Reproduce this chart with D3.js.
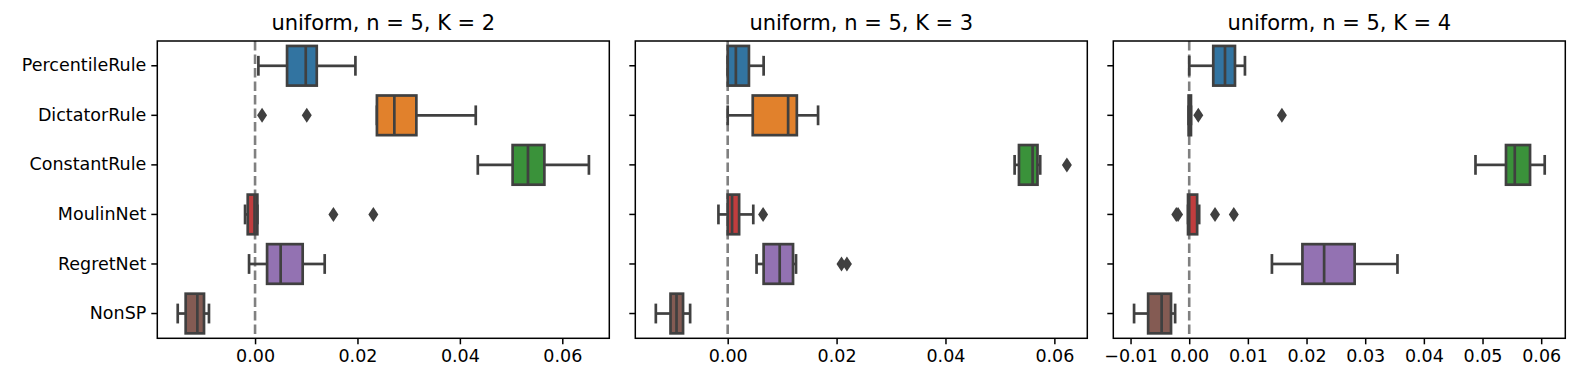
<!DOCTYPE html>
<html><head><meta charset="utf-8">
<script src="https://cdn.jsdelivr.net/npm/d3@7"></script>
<style>body{margin:0;background:#fff}svg{display:block}text{font-family:"DejaVu Sans",sans-serif}</style>
</head><body><svg id="c" width="1579" height="383"></svg>
<script>
const categories = ["PercentileRule","DictatorRule","ConstantRule","MoulinNet","RegretNet","NonSP"];
const colors = ["#3274a1","#e1812c","#3a923a","#c03d3e","#9372b2","#845b53"];
const titles = ["uniform, n = 5, K = 2","uniform, n = 5, K = 3","uniform, n = 5, K = 4"];
// [whisker low, q1, median, q3, whisker high]
const statsK2 = [
  [0.00065, 0.00625, 0.0099, 0.01205, 0.0196],
  [0.0238, 0.0238, 0.0272, 0.0315, 0.0431],
  [0.0435, 0.0503, 0.0533, 0.0565, 0.0652],
  [-0.00195, -0.00143, -0.0001, 0.00045, 0.00045],
  [-0.00117, 0.00235, 0.0050, 0.0093, 0.0136],
  [-0.0151, -0.01355, -0.01127, -0.00997, -0.0090]
];
const fliersK2 = [[], [0.00137, 0.0101], [], [0.0153, 0.0231], [], []];
const statsK3 = [
  [0.0, 0.0, 0.0015, 0.0039, 0.0066],
  [0.0, 0.0046, 0.0111, 0.0127, 0.0166],
  [0.0527, 0.0535, 0.0560, 0.0569, 0.0574],
  [-0.0017, 0.0, 0.0008, 0.0021, 0.0047],
  [0.0053, 0.0066, 0.00955, 0.0120, 0.01255],
  [-0.0132, -0.0105, -0.0094, -0.0082, -0.0069]
];
const fliersK3 = [[], [], [0.0623], [0.0065], [0.0209, 0.0219], []];
const statsK4 = [
  [0.0, 0.0041, 0.0061, 0.0078, 0.0095],
  [-0.0001, -0.0001, 0.0001, 0.0003, 0.0003],
  [0.0488, 0.0540, 0.0555, 0.0581, 0.0606],
  [-0.0002, -0.0002, 0.0, 0.00135, 0.0017],
  [0.0141, 0.0193, 0.0230, 0.0282, 0.0355],
  [-0.0094, -0.0070, -0.0047, -0.0031, -0.0024]
];
const fliersK4 = [[], [0.00155, 0.0158], [], [-0.0022, -0.0019, 0.0044, 0.0076], [], []];
const domains = [[-0.01909, 0.06918], [-0.01697, 0.06605], [-0.01294, 0.06411]];
const ticksK2 = [0, 0.02, 0.04, 0.06];
const ticksK3 = [0, 0.02, 0.04, 0.06];
const ticksK4 = [-0.01, 0, 0.01, 0.02, 0.03, 0.04, 0.05, 0.06];

const panels = [
  {stats: statsK2, fliers: fliersK2, ticks: ticksK2},
  {stats: statsK3, fliers: fliersK3, ticks: ticksK3},
  {stats: statsK4, fliers: fliersK4, ticks: ticksK4}
];
const lefts = [157.3, 635.3, 1113.3];
const W = 452, plotTop = 41, H = 297.3;
const svg = d3.select("#c");
const lineCol = "#404040";
const lw = 2.7;

panels.forEach((p, pi) => {
  const g = svg.append("g").attr("transform", `translate(${lefts[pi]},${plotTop})`);
  const x = d3.scaleLinear().domain(domains[pi]).range([0, W]);
  const y = d3.scaleBand().domain(categories).range([0, H]).paddingInner(0).paddingOuter(0);
  const bw = y.bandwidth() * 0.8;

  g.append("line").attr("x1", x(0)).attr("x2", x(0)).attr("y1", 0).attr("y2", H)
    .attr("stroke", "#808080").attr("stroke-width", 2.6).attr("stroke-dasharray", "9.5,4");

  categories.forEach((c, i) => {
    const s = p.stats[i];
    const cy = y(c) + y.bandwidth() / 2;
    const bg = g.append("g");
    bg.append("line").attr("x1", x(s[0])).attr("x2", x(s[1])).attr("y1", cy).attr("y2", cy)
      .attr("stroke", lineCol).attr("stroke-width", lw);
    bg.append("line").attr("x1", x(s[3])).attr("x2", x(s[4])).attr("y1", cy).attr("y2", cy)
      .attr("stroke", lineCol).attr("stroke-width", lw);
    [s[0], s[4]].forEach(v => {
      bg.append("line").attr("x1", x(v)).attr("x2", x(v)).attr("y1", cy - bw / 4).attr("y2", cy + bw / 4)
        .attr("stroke", lineCol).attr("stroke-width", lw);
    });
    bg.append("rect").attr("x", x(s[1])).attr("y", cy - bw / 2)
      .attr("width", Math.max(0, x(s[3]) - x(s[1]))).attr("height", bw)
      .attr("fill", colors[i]).attr("stroke", lineCol).attr("stroke-width", lw);
    bg.append("line").attr("x1", x(s[2])).attr("x2", x(s[2])).attr("y1", cy - bw / 2).attr("y2", cy + bw / 2)
      .attr("stroke", lineCol).attr("stroke-width", lw);
    p.fliers[i].forEach(v => {
      const fx = x(v), dx = 5, dy = 7.5;
      bg.append("path").attr("d", `M${fx},${cy - dy}L${fx + dx},${cy}L${fx},${cy + dy}L${fx - dx},${cy}Z`)
        .attr("fill", lineCol);
    });
  });

  g.append("rect").attr("x", 0).attr("y", 0).attr("width", W).attr("height", H)
    .attr("fill", "none").attr("stroke", "#000").attr("stroke-width", 1.5);

  const xa = g.append("g").attr("transform", `translate(0,${H})`)
    .call(d3.axisBottom(x).tickValues(p.ticks).tickFormat(d3.format(".2f")).tickSize(6).tickPadding(5));
  xa.select(".domain").remove();
  xa.selectAll("line").attr("stroke", "#000").attr("stroke-width", 1.5);
  xa.selectAll("text").attr("font-size", "17.5px").attr("fill", "#000")
    .attr("font-family", "DejaVu Sans");

  const ya = g.append("g")
    .call(d3.axisLeft(y).tickSize(6).tickPadding(5).tickFormat(pi === 0 ? (d => d) : () => ""));
  ya.select(".domain").remove();
  ya.selectAll("line").attr("stroke", "#000").attr("stroke-width", 1.5);
  ya.selectAll("text").attr("font-size", "17.5px").attr("fill", "#000")
    .attr("font-family", "DejaVu Sans");

  g.append("text").attr("x", W / 2).attr("y", -11).attr("text-anchor", "middle")
    .attr("font-size", "21px").attr("fill", "#000").text(titles[pi]);
});
</script>
</body></html>
